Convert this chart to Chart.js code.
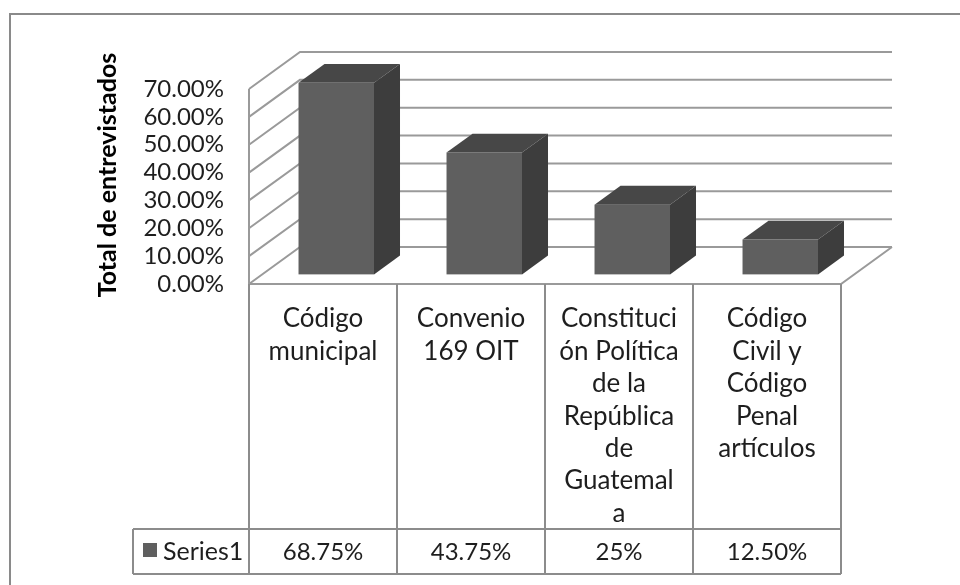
<!DOCTYPE html>
<html>
<head>
<meta charset="utf-8">
<script src="https://cdn.jsdelivr.net/npm/chart.js@4"></script>
<style>
  body { margin: 0; background: #fff; }
  #wrap { width: 960px; height: 585px; }
</style>
</head>
<body>
<div id="wrap"><canvas id="leyesChart" width="960" height="585"></canvas></div>
<script>
// Data
const categories = [
    ['Código', 'municipal'],
    ['Convenio', '169 OIT'],
    ['Constituci', 'ón Política', 'de la', 'República', 'de', 'Guatemal', 'a'],
    ['Código', 'Civil y', 'Código', 'Penal', 'artículos']
];
const seriesName = 'Series1';
const seriesValues = [68.75, 43.75, 25, 12.5];
const cellLabels = ['68.75%', '43.75%', '25%', '12.50%'];
const yTicks = [0, 10, 20, 30, 40, 50, 60, 70];
const yTitle = 'Total de entrevistados';

const FONT = 'Lato, "Liberation Sans", sans-serif';
const wallDepth = { x: 51, y: -37 };   // back wall offset
const barFront = 0.26, barBack = 0.77; // bar position inside the depth

// 3D walls + gridlines Start
const walls3d = {
    id: 'walls3d',
    beforeDatasetsDraw(chart) {
        const c = chart.ctx, a = chart.chartArea, y = chart.scales.y;
        c.save();
        c.strokeStyle = '#9a9a9a';
        c.lineWidth = 2;
        c.beginPath();
        yTicks.forEach(function (t) {
            const py = y.getPixelForValue(t);
            c.moveTo(a.left, py);
            c.lineTo(a.left + wallDepth.x, py + wallDepth.y);
            c.lineTo(a.right + wallDepth.x, py + wallDepth.y);
        });
        // floor front + right edge, left wall front edge
        const p0 = y.getPixelForValue(0);
        c.moveTo(a.left, p0);
        c.lineTo(a.right, p0);
        c.lineTo(a.right + wallDepth.x, p0 + wallDepth.y);
        c.moveTo(a.left, y.getPixelForValue(yTicks[yTicks.length - 1]));
        c.lineTo(a.left, p0);
        c.stroke();
        c.restore();
    },
    afterDatasetsDraw(chart) {
        const c = chart.ctx;
        const meta = chart.getDatasetMeta(0);
        const fx = wallDepth.x * barFront, fy = wallDepth.y * barFront;
        const dx = wallDepth.x * (barBack - barFront), dy = wallDepth.y * (barBack - barFront);
        c.save();
        meta.data.forEach(function (bar) {
            const l = bar.x - bar.width / 2 + fx;
            const r = bar.x + bar.width / 2 + fx;
            const t = bar.y + fy;
            const b = bar.base + fy;
            // front
            c.fillStyle = '#5f5f5f';
            c.fillRect(l, t, r - l, b - t);
            // top
            c.fillStyle = '#474747';
            c.beginPath();
            c.moveTo(l, t); c.lineTo(l + dx, t + dy); c.lineTo(r + dx, t + dy); c.lineTo(r, t);
            c.closePath(); c.fill();
            // side
            c.fillStyle = '#3d3d3d';
            c.beginPath();
            c.moveTo(r, t); c.lineTo(r + dx, t + dy); c.lineTo(r + dx, b + dy); c.lineTo(r, b);
            c.closePath(); c.fill();
        });
        c.restore();
    }
};

// Data table + frame Start
const dataTable = {
    id: 'dataTable',
    afterDraw(chart) {
        const c = chart.ctx, a = chart.chartArea, x = chart.scales.x;
        const top = a.bottom, rowTop = 529, rowBottom = 574, keyLeft = 133;
        const half = (a.right - a.left) / categories.length / 2;
        c.save();
        c.strokeStyle = '#8c8c8c';
        c.lineWidth = 2;
        c.beginPath();
        categories.forEach(function (cat, i) {
            const cx = x.getPixelForValue(i);
            c.moveTo(cx - half, top); c.lineTo(cx - half, rowBottom);
        });
        c.moveTo(a.right, top); c.lineTo(a.right, rowBottom);
        c.moveTo(keyLeft, rowTop); c.lineTo(a.right, rowTop);
        c.moveTo(keyLeft, rowBottom); c.lineTo(a.right, rowBottom);
        c.moveTo(keyLeft, rowTop); c.lineTo(keyLeft, rowBottom);
        c.stroke();

        c.fillStyle = '#1e1e1e';
        c.textAlign = 'center';
        c.textBaseline = 'middle';
        categories.forEach(function (cat, i) {
            const cx = x.getPixelForValue(i);
            c.font = '26px ' + FONT;
            cat.forEach(function (line, k) {
                c.fillText(line, cx, 319 + k * 32.4);
            });
            c.font = '24px ' + FONT;
            c.fillText(cellLabels[i], cx, 552);
        });
        c.textAlign = 'left';
        c.font = '25px ' + FONT;
        c.fillText(seriesName, 163, 552);
        c.fillStyle = '#5f5f5f';
        c.fillRect(143, 543, 14, 14);

        // axis title
        c.fillStyle = '#000';
        c.font = 'bold 25px ' + FONT;
        c.textAlign = 'center';
        c.translate(108, 175);
        c.rotate(-Math.PI / 2);
        c.fillText(yTitle, 0, 0);
        c.setTransform(1, 0, 0, 1, 0, 0);

        // outer frame (cut at right / bottom)
        c.strokeStyle = '#8a8a8a';
        c.lineWidth = 2;
        c.beginPath();
        c.moveTo(960, 14); c.lineTo(10, 14); c.lineTo(10, 585);
        c.stroke();
        c.restore();
    }
};

const ctx = document.getElementById('leyesChart').getContext('2d');
const leyesChart = new Chart(ctx, {
    type: 'bar',
    data: {
        labels: categories,
        datasets: [{
            label: seriesName,
            data: seriesValues,
            backgroundColor: 'rgba(0,0,0,0)',
            borderWidth: 0,
            barPercentage: 0.51,
            categoryPercentage: 1
        }]
    },
    options: {
        responsive: false,
        animation: false,
        layout: {
            padding: { left: 90, top: 89, right: 119, bottom: 301 }
        },
        plugins: {
            legend: { display: false },
            title: { display: false },
            tooltip: { enabled: false }
        },
        scales: {
            x: { display: false },
            y: {
                min: 0,
                max: 70,
                afterFit: function (scale) { scale.width = 159; },
                afterBuildTicks: function (scale) {
                    scale.ticks = yTicks.map(function (v) { return { value: v }; });
                },
                grid: { display: false, drawTicks: false },
                border: { display: false },
                ticks: {
                    autoSkip: false,
                    padding: 25,
                    color: '#1e1e1e',
                    font: { family: FONT, size: 24 },
                    callback: function (value) { return value.toFixed(2) + '%'; }
                }
            }
        }
    },
    plugins: [walls3d, dataTable]
});
</script>
</body>
</html>
